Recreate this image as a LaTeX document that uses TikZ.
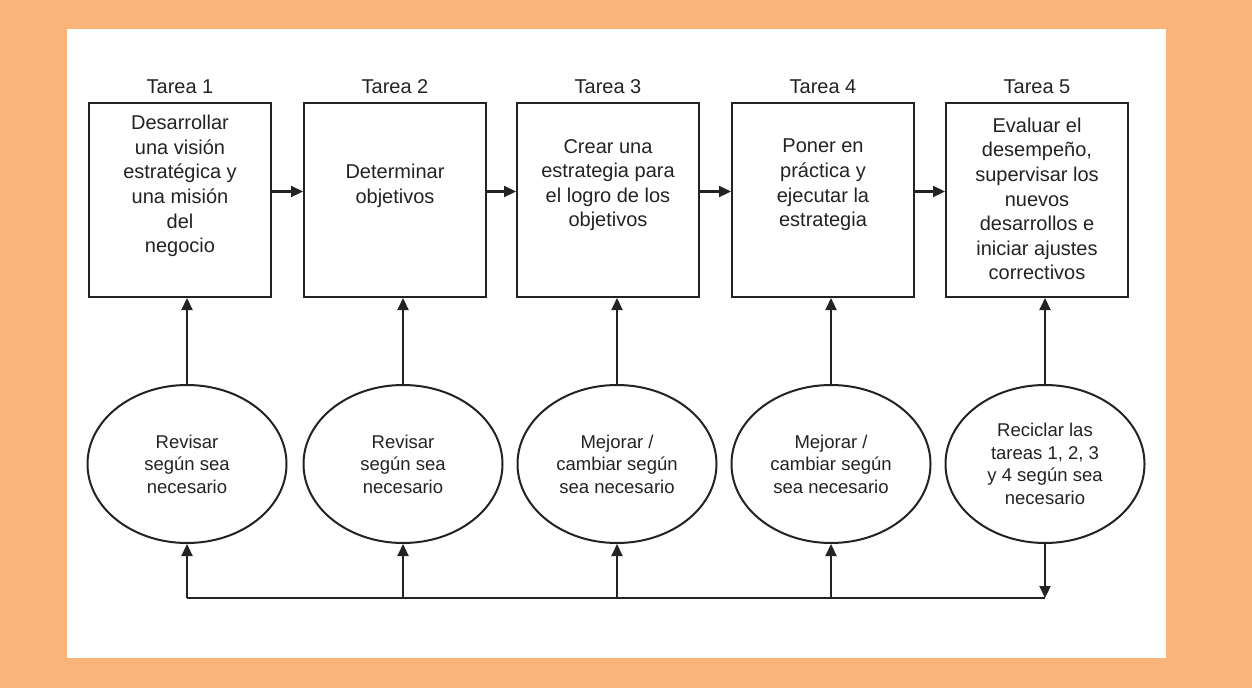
\documentclass[tikz,border=0pt]{standalone}
\usepackage{fontspec}
\setmainfont{Liberation Sans}
\usetikzlibrary{arrows.meta,shapes.geometric}
\definecolor{marco}{RGB}{249,180,122}
\definecolor{trazo}{RGB}{35,35,35}

\begin{document}
\begin{tikzpicture}[x=1pt,y=-1pt,
		tarea/.style={draw=trazo,line width=2pt,minimum width=182pt,minimum height=194pt,inner sep=0pt},
		texto/.style={text=trazo,align=center,inner sep=0pt,font=\fontsize{20}{24.6}\selectfont},
		revisa/.style={draw=trazo,line width=2pt,ellipse,minimum width=199pt,minimum height=158pt,inner sep=0pt,
			text=trazo,align=center,font=\fontsize{18.5}{22.6}\selectfont},
		flecha/.style={draw=trazo,line width=2.2pt,-{Triangle[length=12pt,width=11pt]}},
		linea/.style={draw=trazo,line width=2.2pt}]
		% marco naranja
		\fill[marco] (0,0) rectangle (1252,688);
		\fill[white] (67,29) rectangle (1166,658);

		% tareas
		\path (180,200) node[tarea] (t1) {}
		(395,200) node[tarea] (t2) {}
		(608,200) node[tarea] (t3) {}
		(823,200) node[tarea] (t4) {}
		(1037,200) node[tarea] (t5) {};

		\path (180,87) node[texto] (e1) {Tarea 1}
		(395,87) node[texto] (e2) {Tarea 2}
		(608,87) node[texto] (e3) {Tarea 3}
		(823,87) node[texto] (e4) {Tarea 4}
		(1037,87) node[texto] (e5) {Tarea 5};

		\path (180,186) node[texto] (d1) {Desarrollar\\una visión\\estratégica y\\una misión\\del\\negocio}
		(395,186) node[texto] (d2) {Determinar\\objetivos}
		(608,185) node[texto] (d3) {Crear una\\estrategia para\\el logro de los\\objetivos}
		(823,185) node[texto] (d4) {Poner en\\práctica y\\ejecutar la\\estrategia}
		(1037,199) node[texto] (d5) {Evaluar el\\desempeño,\\supervisar los\\nuevos\\desarrollos e\\iniciar ajustes\\correctivos};

		% revisiones
		\path (187,464) node[revisa] (r1) {Revisar\\según sea\\necesario}
		(403,464) node[revisa] (r2) {Revisar\\según sea\\necesario}
		(617,464) node[revisa] (r3) {Mejorar /\\cambiar según\\sea necesario}
		(831,464) node[revisa] (r4) {Mejorar /\\cambiar según\\sea necesario}
		(1045,464) node[revisa] (r5) {Reciclar las\\tareas 1, 2, 3\\y 4 según sea\\necesario};

		\coordinate (base) at (0,598);
		\foreach \i in {1,...,5} \coordinate (b\i) at (r\i.south |- base);

		\foreach \i/\j in {1/2,2/3,3/4,4/5}
			\draw[flecha] ([yshift=8.5pt]t\i.east) -- ([yshift=8.5pt]t\j.west);

		\foreach \i in {1,...,5}
			\draw[flecha] (r\i.north) -- (r\i.north |- t\i.south);

		\draw[flecha] (r5.south) -- (b5);
		\draw[linea] (b5) -- (b1);
		\foreach \i in {1,...,4}
			\draw[flecha] (b\i) -- (r\i.south);
	\end{tikzpicture}
\end{document}
